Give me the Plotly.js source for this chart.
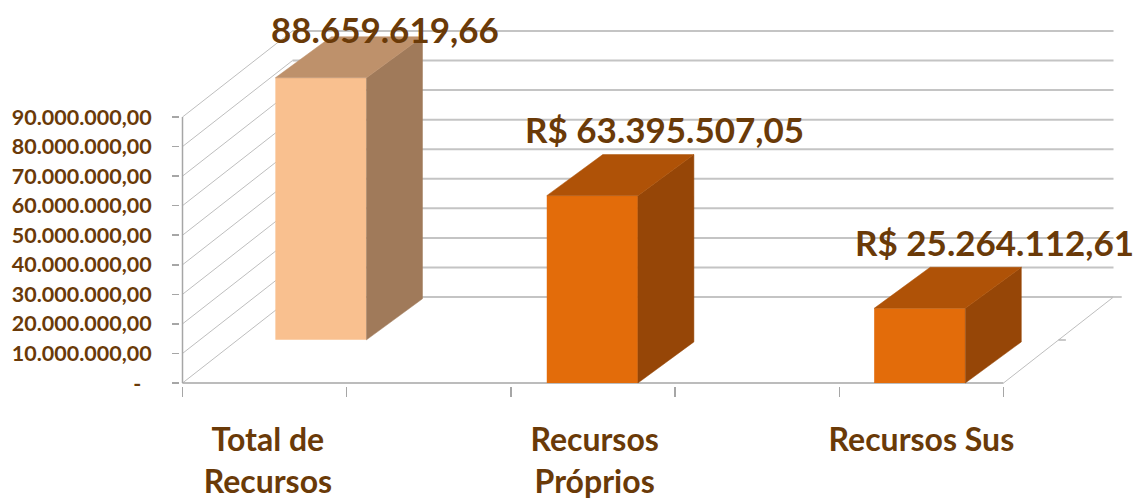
<!DOCTYPE html>
<html><head><meta charset="utf-8">
<script src="https://cdn.plot.ly/plotly-3.0.1.min.js"></script>
<style>html,body{margin:0;padding:0;background:#fff}</style>
</head><body><div id="chart" style="width:1140px;height:501px"></div>
<script>
// ---- data ----
const categories = ["Total de Recursos", "Recursos Próprios", "Recursos Sus"];
const categoryLabels = ["Total de<br>Recursos", "Recursos<br>Próprios", "Recursos Sus"];
const values = [88659619.66, 63395507.05, 25264112.61];
const valueLabels = ["88.659.619,66", "R$ 63.395.507,05", "R$ 25.264.112,61"];
const yTickValues = [0, 10000000, 20000000, 30000000, 40000000, 50000000, 60000000, 70000000, 80000000, 90000000];
const yTickLabels = ["-\u00a0\u00a0", "10.000.000,00", "20.000.000,00", "30.000.000,00", "40.000.000,00", "50.000.000,00", "60.000.000,00", "70.000.000,00", "80.000.000,00", "90.000.000,00"];

// ---- layout / styling constants ----
const BROWN = "#6A3A08";
const FONT = "Lato";
const barCenters = [0.843, 2.496, 4.49];
const labelCenters = [0.52, 2.51, 4.5];
const barBases = [14600000, 0, 0];       // first bar is drawn lifted, as in the original
const barWidth = 0.555;
const frontColors = ["#F9C08F", "#E36C0A", "#E36C0A"];
const topColors = ["#BE916B", "#AF5207", "#AF5207"];
const sideColors = ["#A07A5A", "#964607", "#964607"];
const DX = 0.67, DY = 29100000;          // floor depth (perspective offset)
const BDX = 0.341, BDY = 13900000;       // bar depth
const NCAT_TICKS = 5;

const traces = [];
traces.push({
  type: "bar", x: barCenters, y: values, base: barBases, width: barWidth,
  marker: {color: frontColors, line: {width: 0}}, hoverinfo: "skip", showlegend: false
});
values.forEach((v, i) => {
  const xl = barCenters[i] - barWidth / 2, xr = barCenters[i] + barWidth / 2;
  const b = barBases[i], t = barBases[i] + v;
  traces.push({
    type: "scatter", mode: "lines", fill: "toself", fillcolor: sideColors[i],
    line: {color: sideColors[i], width: 0.5},
    x: [xr, xr + BDX, xr + BDX, xr, xr], y: [b, b + BDY, t + BDY, t, b],
    hoverinfo: "skip", showlegend: false
  });
  traces.push({
    type: "scatter", mode: "lines", fill: "toself", fillcolor: topColors[i],
    line: {color: topColors[i], width: 0.5},
    x: [xl, xl + BDX, xr + BDX, xr, xl], y: [t, t + BDY, t + BDY, t, t],
    hoverinfo: "skip", showlegend: false
  });
});

const shapes = [];
yTickValues.forEach(v => {
  shapes.push({type: "line", layer: "below", x0: DX, x1: NCAT_TICKS + DX, y0: v + DY, y1: v + DY,
    line: {color: "#C4C4C4", width: 2}});
  shapes.push({type: "line", layer: "below", x0: 0, x1: DX, y0: v, y1: v + DY,
    line: {color: "#BEBEBE", width: 1}});
});
shapes.push({type: "line", layer: "below", x0: 0, x1: NCAT_TICKS, y0: 0, y1: 0, line: {color: "#A6A6A6", width: 1.5}});
shapes.push({type: "line", layer: "below", x0: NCAT_TICKS, x1: NCAT_TICKS + DX, y0: 0, y1: DY, line: {color: "#BEBEBE", width: 1}});
shapes.push({type: "line", layer: "below", x0: 0, x1: 0, y0: 0, y1: yTickValues[yTickValues.length - 1], line: {color: "#A6A6A6", width: 1.5}});
shapes.push({type: "line", layer: "below", x0: NCAT_TICKS + DX, x1: NCAT_TICKS + DX + 0.05, y0: DY, y1: DY, line: {color: "#A6A6A6", width: 1.2}});
shapes.push({type: "line", layer: "below", x0: NCAT_TICKS + DX / 2, x1: NCAT_TICKS + DX / 2 + 0.045, y0: DY / 2, y1: DY / 2, line: {color: "#A6A6A6", width: 1.2}});

const labelDx = [0.393, 0.439, 0.455];
const annotations = values.map((v, i) => ({
  x: barCenters[i] + labelDx[i],
  y: Math.min(barBases[i] + v + BDY + 8500000, 119800000),
  xref: "x", yref: "y", text: valueLabels[i], showarrow: false,
  xanchor: "center", yanchor: "middle",
  font: {family: FONT, size: 35, weight: 700, color: BROWN}
}));

const pxPerUnitY = 2.9556e-6;
const layout = {
  width: 1140, height: 501,
  margin: {l: 180, r: 0, t: 0, b: 115},
  paper_bgcolor: "#fff", plot_bgcolor: "rgba(0,0,0,0)",
  showlegend: false,
  xaxis: {
    range: [-2.5 / 164.2, -2.5 / 164.2 + 960 / 164.2],
    showgrid: false, zeroline: false, showline: false,
    tickmode: "array", tickvals: labelCenters, ticktext: categoryLabels,
    ticks: "", ticklabelstandoff: 32,
    tickfont: {family: FONT, size: 32, weight: 700, color: BROWN},
    minor: {tickmode: "array", tickvals: [0, 1, 2, 3, 4, 5], ticks: "outside", ticklen: 10,
      tickcolor: "#A6A6A6", tickwidth: 1.5, showgrid: false}
  },
  yaxis: {
    range: [(383 - 386) / pxPerUnitY, 383 / pxPerUnitY],
    showgrid: false, zeroline: false, showline: false,
    tickmode: "array", tickvals: yTickValues, ticktext: yTickLabels,
    ticks: "outside", ticklen: 7, tickcolor: "#A6A6A6", tickwidth: 1.5,
    ticklabelstandoff: 16,
    tickfont: {family: FONT, size: 21.5, weight: 700, color: BROWN}
  },
  shapes: shapes,
  annotations: annotations
};
Plotly.newPlot("chart", traces, layout, {displayModeBar: false, staticPlot: true});
</script></body></html>
